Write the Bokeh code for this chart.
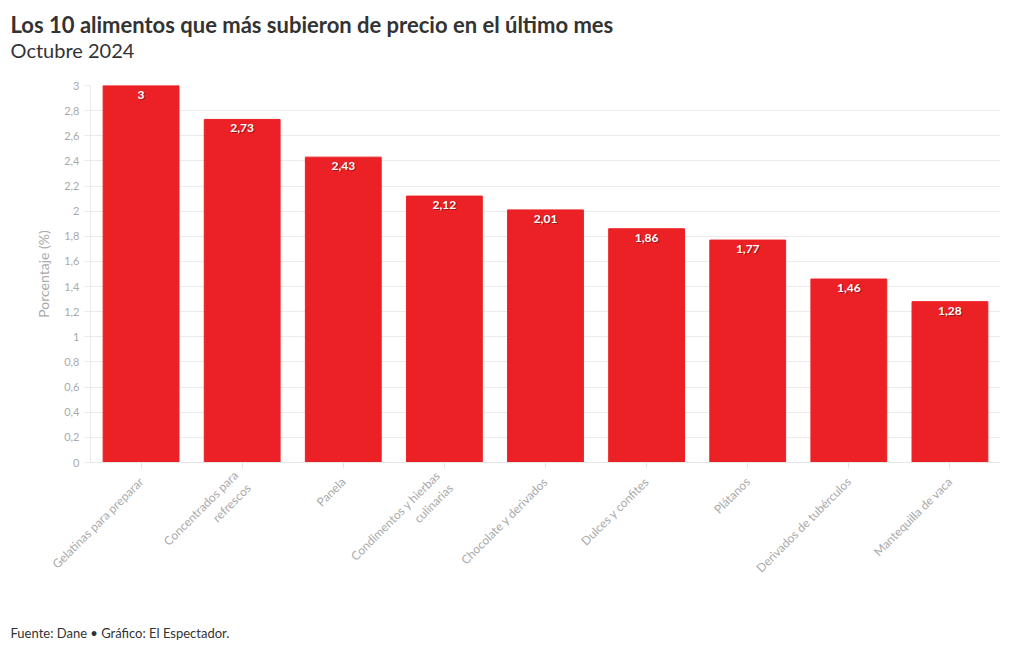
from bokeh.plotting import figure
from bokeh.models import ColumnDataSource, FactorRange, Range1d, FixedTicker, CustomJSTickFormatter, Title
from bokeh.core.properties import value
from bokeh.embed import file_html
from bokeh.resources import INLINE
import math

categories = ["Gelatinas para preparar", "Concentrados para\nrefrescos", "Panela",
              "Condimentos y hierbas\nculinarias", "Chocolate y derivados", "Dulces y confites",
              "Plátanos", "Derivados de tubérculos", "Mantequilla de vaca"]
values = [3, 2.73, 2.43, 2.12, 2.01, 1.86, 1.77, 1.46, 1.28]
value_labels = ["3", "2,73", "2,43", "2,12", "2,01", "1,86", "1,77", "1,46", "1,28"]
y_ticks = [0, 0.2, 0.4, 0.6, 0.8, 1, 1.2, 1.4, 1.6, 1.8, 2, 2.2, 2.4, 2.6, 2.8, 3]

FONT = "Lato"
src = ColumnDataSource(dict(cat=categories, val=values, lab=value_labels))

p = figure(x_range=FactorRange(*categories, range_padding=0), y_range=Range1d(0, 3),
           width=1020, height=650, output_backend="svg", toolbar_location=None,
           min_border_left=90, min_border_right=20, min_border_top=85, min_border_bottom=188)
p.outline_line_color = None

p.vbar(x="cat", top="val", width=0.75, source=src, color="#ec2125", line_color="#ec2125")
p.text(x="cat", y="val", text="lab", source=src, text_align="center", text_baseline="top",
       y_offset=6, x_offset=1, text_color="black", text_alpha=0.35,
       text_font=value(FONT), text_font_style="bold", text_font_size="12px")
p.text(x="cat", y="val", text="lab", source=src, text_align="center", text_baseline="top",
       y_offset=5, text_color="white",
       text_font=value(FONT), text_font_style="bold", text_font_size="12px")

p.xgrid.grid_line_color = None
p.ygrid.grid_line_color = "#ebebeb"
p.ygrid.ticker = FixedTicker(ticks=y_ticks)
p.yaxis.ticker = FixedTicker(ticks=y_ticks)
p.yaxis.formatter = CustomJSTickFormatter(code="var s = Math.round(tick*10)/10; return s.toString().replace('.', ',');")
p.yaxis.axis_label = "Porcentaje (%)"
p.yaxis.axis_label_text_font = FONT
p.yaxis.axis_label_text_font_style = "normal"
p.yaxis.axis_label_text_font_size = "14px"
p.yaxis.axis_label_text_color = "#aaaaaa"
p.yaxis.axis_label_standoff = 9
p.yaxis.axis_line_color = "#ebebeb"
p.yaxis.major_tick_line_color = "#ebebeb"
p.yaxis.major_tick_out = 6
p.yaxis.major_tick_in = 0
p.yaxis.minor_tick_line_color = None
p.yaxis.major_label_standoff = 5
p.yaxis.major_label_text_font = FONT
p.yaxis.major_label_text_font_size = "11px"
p.yaxis.major_label_text_color = "#aaaaaa"

p.xaxis.axis_line_color = "#e6e6e6"
p.xaxis.major_tick_line_color = "#e6e6e6"
p.xaxis.major_tick_out = 6
p.xaxis.major_tick_in = 0
p.xaxis.major_label_orientation = math.pi / 4
p.xaxis.major_label_standoff = 11
p.xaxis.major_label_text_font = FONT
p.xaxis.major_label_text_font_size = "12px"
p.xaxis.major_label_text_color = "#aaaaaa"

p.add_layout(Title(text="Octubre 2024\n ", text_font=FONT, text_font_style="normal",
                   text_font_size="20px", text_color="#333333", offset=-80, standoff=0,
                   vertical_align="top", text_line_height=0.9), "above")
p.add_layout(Title(text="Los 10 alimentos que más subieron de precio en el último mes", text_font=FONT,
                   text_font_style="bold", text_font_size="22px", text_color="#333333", offset=-80,
                   standoff=0), "above")
p.add_layout(Title(text=" \nFuente: Dane • Gráfico: El Espectador.", text_font=FONT, text_font_style="normal",
                   text_font_size="13px", text_color="#333333", offset=-80, standoff=19,
                   vertical_align="bottom", text_line_height=1.35), "below")

open("out.html", "w").write(file_html(p, INLINE))
